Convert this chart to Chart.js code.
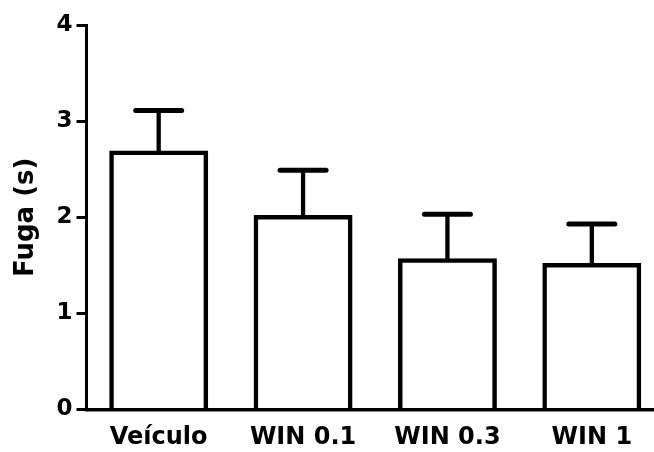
<!DOCTYPE html>
<html>
<head>
<meta charset="utf-8">
<script src="https://cdn.jsdelivr.net/npm/chart.js@4/dist/chart.umd.min.js"></script>
<style>
  html, body { margin: 0; padding: 0; background: #fff; overflow: hidden; }
  #wrap { width: 664px; height: 452px; position: relative; }
</style>
</head>
<body>
<div id="wrap"><canvas id="c"></canvas></div>
<script>
// Escape latency per treatment group: mean and SEM (seconds)
const groups = ['Veículo', 'WIN 0.1', 'WIN 0.3', 'WIN 1'];
const means  = [2.67, 2.00, 1.55, 1.50];
const sems   = [0.44, 0.49, 0.48, 0.43];
const yTicks = [0, 1, 2, 3, 4];
const yTitle = 'Fuga (s)';

const FONT = "'DejaVu Sans', 'Liberation Sans', Arial, sans-serif";
const BAR_STROKE = 4.5;

// Upper SEM whiskers with a flat cap, drawn over the bars
const semBars = {
  id: 'semBars',
  afterDatasetsDraw(chart) {
    const { ctx, scales: { y } } = chart;
    const meta = chart.getDatasetMeta(0);
    ctx.save();
    ctx.strokeStyle = '#000';
    meta.data.forEach((bar, i) => {
      const x = bar.x;
      const yMean = y.getPixelForValue(means[i]);
      const yTop = y.getPixelForValue(means[i] + sems[i]);
      ctx.lineCap = 'butt';
      ctx.lineWidth = 4.3;
      ctx.beginPath();
      ctx.moveTo(x, yMean);
      ctx.lineTo(x, yTop);
      ctx.stroke();
      ctx.lineCap = 'round';
      ctx.lineWidth = 5;
      ctx.beginPath();
      ctx.moveTo(x - 23, yTop);
      ctx.lineTo(x + 23, yTop);
      ctx.stroke();
    });
    ctx.restore();
  }
};

new Chart(document.getElementById('c'), {
  type: 'bar',
  data: {
    labels: groups,
    datasets: [{
      data: means,
      backgroundColor: '#fff',
      borderColor: '#000',
      borderWidth: BAR_STROKE,
      borderSkipped: 'start',
      // centre the outline on the bar edge so the top stroke sits on the mean
      inflateAmount: BAR_STROKE / 2,
      categoryPercentage: 1,
      barPercentage: 0.654
    }]
  },
  options: {
    responsive: true,
    maintainAspectRatio: false,
    animation: false,
    events: [],
    layout: { padding: { top: 25, right: 0, bottom: 0, left: 0 } },
    plugins: { legend: { display: false }, tooltip: { enabled: false } },
    scales: {
      x: {
        grid: { display: false, drawTicks: false },
        border: { display: true, color: '#000', width: 3.5, z: 1 },
        ticks: {
          color: '#000',
          padding: 14,
          maxRotation: 0,
          font: { family: FONT, size: 24, weight: 'bold' }
        },
        afterFit(scale) { scale.height = 42.5; }
      },
      y: {
        min: 0,
        max: 4,
        afterBuildTicks(scale) { scale.ticks = yTicks.map(v => ({ value: v })); },
        grid: {
          drawOnChartArea: false,
          drawTicks: true,
          tickLength: 10,
          lineWidth: 3,
          color: '#000'
        },
        border: { display: true, color: '#000', width: 3 },
        ticks: {
          color: '#000',
          padding: 4,
          font: { family: FONT, size: 23, weight: 'bold' }
        },
        title: {
          display: true,
          text: yTitle,
          color: '#000',
          padding: { top: 11, bottom: 0 },
          font: { family: FONT, size: 26, weight: 'bold' }
        },
        afterFit(scale) { scale.width = 86.5; }
      }
    }
  },
  plugins: [semBars]
});
</script>
</body>
</html>
